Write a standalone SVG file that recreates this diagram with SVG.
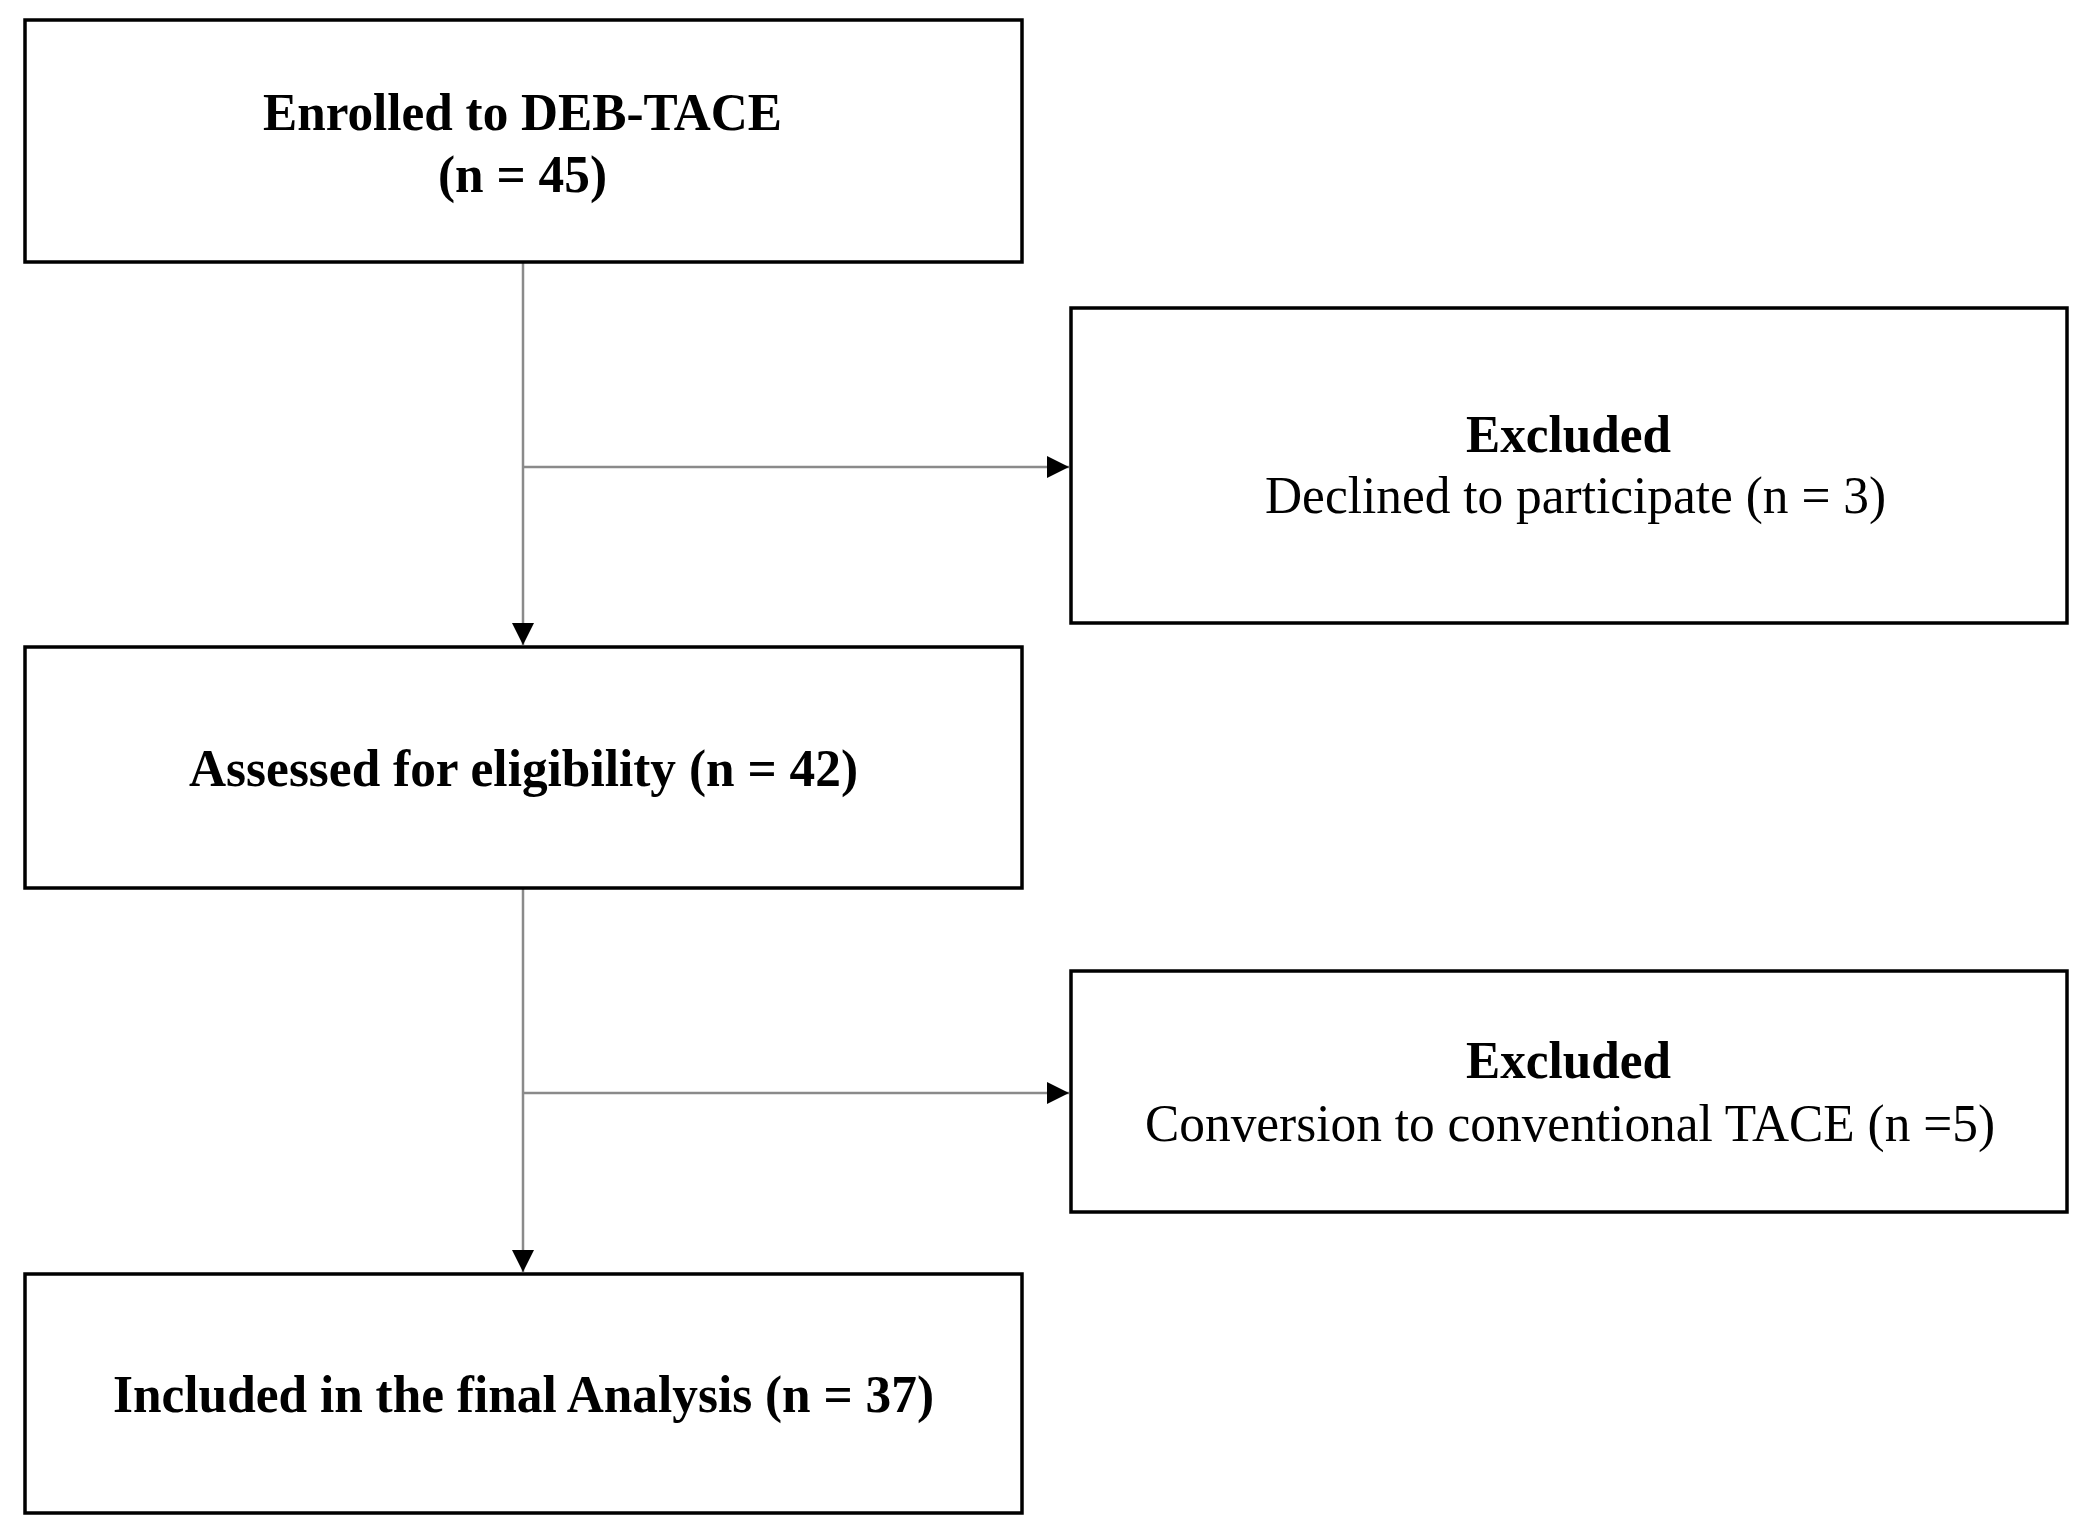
<svg xmlns="http://www.w3.org/2000/svg" width="2086" height="1536" viewBox="0 0 2086 1536">
<style>
.box{fill:#fff;stroke:#000;stroke-width:3.5}
.t{font-family:"Liberation Serif","Times New Roman",serif;font-size:53px;fill:#000}
.b{font-weight:bold}
.c{fill:none;stroke:#8a8a8a;stroke-width:2.5}
</style>
<defs>
<marker id="ah" markerUnits="userSpaceOnUse" markerWidth="24" markerHeight="24" refX="22" refY="11" orient="auto" viewBox="0 0 24 22">
<path d="M0,0 L22,11 L0,22 Z" fill="#000"/>
</marker>
</defs>
<rect width="2086" height="1536" fill="#fff"/>
<g id="connectors">
<line class="c" x1="523" y1="262" x2="523" y2="645" marker-end="url(#ah)"/>
<line class="c" x1="523" y1="467" x2="1069" y2="467" marker-end="url(#ah)"/>
<line class="c" x1="523" y1="888" x2="523" y2="1272" marker-end="url(#ah)"/>
<line class="c" x1="523" y1="1093" x2="1069" y2="1093" marker-end="url(#ah)"/>
</g>
<g id="enrolled">
<rect class="box" x="25" y="20" width="997" height="242"/>
<text class="t b" x="263" y="130" textLength="519" lengthAdjust="spacingAndGlyphs">Enrolled to DEB-TACE</text>
<text class="t b" x="438" y="192" textLength="169" lengthAdjust="spacingAndGlyphs">(n = 45)</text>
</g>
<g id="excluded1">
<rect class="box" x="1071" y="308" width="996" height="315"/>
<text class="t b" x="1466" y="452" textLength="205" lengthAdjust="spacingAndGlyphs">Excluded</text>
<text class="t" x="1265" y="513" textLength="621" lengthAdjust="spacingAndGlyphs">Declined to participate (n = 3)</text>
</g>
<g id="assessed">
<rect class="box" x="25" y="647" width="997" height="241"/>
<text class="t b" x="189" y="786" textLength="669" lengthAdjust="spacingAndGlyphs">Assessed for eligibility (n = 42)</text>
</g>
<g id="excluded2">
<rect class="box" x="1071" y="971" width="996" height="241"/>
<text class="t b" x="1466" y="1078" textLength="205" lengthAdjust="spacingAndGlyphs">Excluded</text>
<text class="t" x="1145" y="1141" textLength="850" lengthAdjust="spacingAndGlyphs">Conversion to conventional TACE (n =5)</text>
</g>
<g id="included">
<rect class="box" x="25" y="1274" width="997" height="239"/>
<text class="t b" x="113" y="1412" textLength="821" lengthAdjust="spacingAndGlyphs">Included in the final Analysis (n = 37)</text>
</g>
</svg>
